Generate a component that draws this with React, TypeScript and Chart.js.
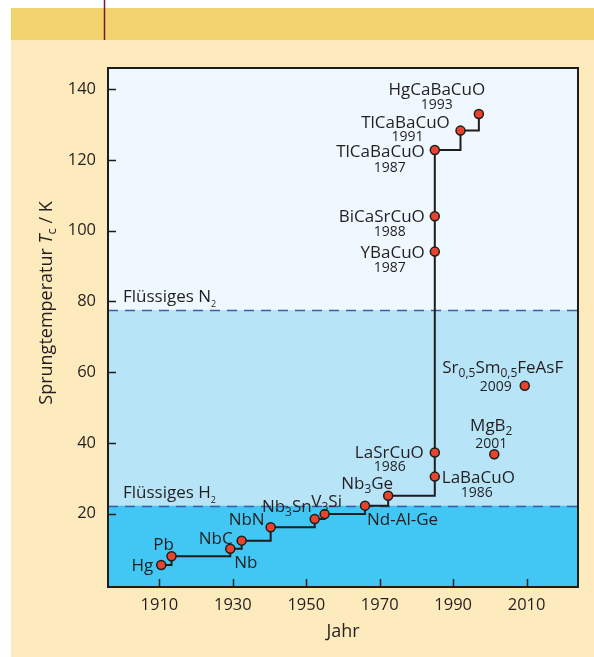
import React, { useEffect, useRef } from 'react';
import { Chart, registerables } from 'chart.js';

Chart.register(...registerables);

// ---------- data ----------
const stepNames = ['Hg', 'Pb', 'Nb', 'NbC', 'NbN', 'Nb_3Sn', 'V_3Si', 'Nd-Al-Ge', 'Nb_3Ge', 'LaBaCuO', 'LaSrCuO', 'YBaCuO', 'BiCaSrCuO', 'TlCaBaCuO', 'TlCaBaCuO', 'HgCaBaCuO'];
const stepYears = [1910.5, 1913.3, 1929.3, 1932.4, 1940.3, 1952.3, 1955.0, 1966.0, 1972.3, 1985.0, 1985.0, 1985.0, 1985.0, 1985.0, 1992.0, 1997.0];
const stepTc = [5.5, 8.0, 10.1, 12.4, 16.2, 18.5, 19.9, 22.3, 25.1, 30.5, 37.3, 94.1, 104.1, 122.8, 128.3, 133.0];
const stepYearLabels = ['', '', '', '', '', '', '', '', '', '1986', '1986', '1987', '1988', '1987', '1991', '1993'];

const otherNames = ['MgB_2', 'Sr_{0,5}Sm_{0,5}FeAsF'];
const otherYears = [2001.2, 2009.5];
const otherTc = [36.8, 56.2];
const otherYearLabels = ['2001', '2009'];

const xTicks = [1910, 1930, 1950, 1970, 1990, 2010];
const yTicks = [20, 40, 60, 80, 100, 120, 140];
const liquidN2 = 77.6;
const liquidH2 = 22.3;
const liquidLabels = ['Flüssiges N_2', 'Flüssiges H_2'];
const xTitle = 'Jahr';

// ---------- styles ----------
const FONT = '"Open Sans", "DejaVu Sans", sans-serif';
const TEXT = '#231f20';
const DOT = '#e8432c';
const INK = '#1d1d1b';

type Place = { a: CanvasTextAlign; dx: number; dy: number; ya?: CanvasTextAlign; ydx?: number; ydy?: number };
// dy/ydy: offset of the cap-centre of the text from the point
const stepPlace: Place[] = [
  { a: 'right', dx: -8, dy: 0 },
  { a: 'center', dx: -8, dy: -12 },
  { a: 'left', dx: 4, dy: 13 },
  { a: 'right', dx: -9, dy: -3 },
  { a: 'right', dx: -6, dy: -8 },
  { a: 'right', dx: -3, dy: -13 },
  { a: 'center', dx: 2, dy: -13 },
  { a: 'left', dx: 2, dy: 13 },
  { a: 'right', dx: 5, dy: -13 },
  { a: 'left', dx: 7, dy: 0, ya: 'center', ydx: 42, ydy: 15 },
  { a: 'right', dx: -11, dy: -1, ya: 'center', ydx: -45, ydy: 13 },
  { a: 'right', dx: -10, dy: 0, ya: 'center', ydx: -45, ydy: 15 },
  { a: 'right', dx: -10, dy: 0, ya: 'center', ydx: -45, ydy: 15 },
  { a: 'right', dx: -10, dy: 1, ya: 'center', ydx: -45, ydy: 17 },
  { a: 'center', dx: -55, dy: -9, ya: 'center', ydx: -53, ydy: 5 },
  { a: 'center', dx: -42, dy: -25, ya: 'center', ydx: -42, ydy: -10 },
];
const otherPlace: Place[] = [
  { a: 'center', dx: -3, dy: -29, ya: 'center', ydx: -3, ydy: -11 },
  { a: 'center', dx: -22, dy: -19, ya: 'right', ydx: -13, ydy: 0 },
];

type Seg = { t: string; sub: boolean; w?: number };
function parseRich(s: string): Seg[] {
  const out: Seg[] = [];
  let buf = '';
  for (let i = 0; i < s.length; i++) {
    const c = s[i];
    if (c === '_') {
      if (buf) { out.push({ t: buf, sub: false }); buf = ''; }
      if (s[i + 1] === '{') {
        const end = s.indexOf('}', i);
        out.push({ t: s.slice(i + 2, end), sub: true });
        i = end;
      } else {
        out.push({ t: s[i + 1], sub: true });
        i++;
      }
    } else buf += c;
  }
  if (buf) out.push({ t: buf, sub: false });
  return out;
}

function drawRich(
  ctx: CanvasRenderingContext2D, text: string, x: number, cy: number, align: CanvasTextAlign,
  size: number, subSize: number, subDy: number,
) {
  const segs = parseRich(text);
  let w = 0;
  for (const s of segs) {
    ctx.font = `${s.sub ? subSize : size}px ${FONT}`;
    s.w = ctx.measureText(s.t).width;
    w += s.w;
  }
  let sx = align === 'left' ? x : align === 'right' ? x - w : x - w / 2;
  const base = cy + size * 0.36;
  ctx.textAlign = 'left';
  ctx.textBaseline = 'alphabetic';
  for (const s of segs) {
    ctx.font = `${s.sub ? subSize : size}px ${FONT}`;
    ctx.fillText(s.t, sx, s.sub ? base + subDy : base);
    sx += s.w || 0;
  }
}

const decorPlugin = {
  id: 'decor',
  beforeDraw(chart: any) {
    const { ctx, chartArea: ca, scales } = chart;
    const W = chart.width, H = chart.height;
    ctx.save();
    ctx.fillStyle = '#ffffff';
    ctx.fillRect(0, 0, W, H);
    ctx.fillStyle = '#feebbd';
    ctx.fillRect(11, 8, W - 11, H - 8);
    ctx.fillStyle = '#f2d36e';
    ctx.fillRect(11, 8, W - 11, 32);
    ctx.strokeStyle = '#7a1535';
    ctx.lineWidth = 1.5;
    ctx.beginPath();
    ctx.moveTo(104.5, 0);
    ctx.lineTo(104.5, 40);
    ctx.stroke();
    // temperature bands
    const y = scales.y;
    const yN = y.getPixelForValue(liquidN2);
    const yH = y.getPixelForValue(liquidH2);
    ctx.fillStyle = '#eef8fe';
    ctx.fillRect(ca.left, ca.top, ca.width, yN - ca.top);
    ctx.fillStyle = '#b8e4f8';
    ctx.fillRect(ca.left, yN, ca.width, yH - yN);
    ctx.fillStyle = '#42c6f3';
    ctx.fillRect(ca.left, yH, ca.width, ca.bottom - yH);
    ctx.restore();
  },
  beforeDatasetsDraw(chart: any) {
    const { ctx, chartArea: ca, scales } = chart;
    ctx.save();
    // dashed liquid lines
    ctx.strokeStyle = '#3c5ba8';
    ctx.lineWidth = 1.5;
    ctx.setLineDash([10, 7]);
    [liquidN2, liquidH2].forEach((v, i) => {
      const py = Math.round(scales.y.getPixelForValue(v)) + 0.5;
      ctx.beginPath();
      ctx.moveTo(ca.left, py);
      ctx.lineTo(ca.right, py);
      ctx.stroke();
      ctx.fillStyle = TEXT;
      drawRich(ctx, liquidLabels[i], ca.left + 15, py - 15, 'left', 17, 9, 5);
    });
    ctx.setLineDash([]);
    // inward ticks
    ctx.strokeStyle = INK;
    ctx.lineWidth = 1.5;
    yTicks.forEach(v => {
      const py = Math.round(scales.y.getPixelForValue(v)) + 0.5;
      ctx.beginPath();
      ctx.moveTo(ca.left, py);
      ctx.lineTo(ca.left + 8, py);
      ctx.stroke();
    });
    xTicks.forEach(v => {
      const px = Math.round(scales.x.getPixelForValue(v)) + 0.5;
      ctx.beginPath();
      ctx.moveTo(px, ca.bottom);
      ctx.lineTo(px, ca.bottom - 8);
      ctx.stroke();
    });
    ctx.restore();
  },
  afterDatasetsDraw(chart: any) {
    const { ctx } = chart;
    ctx.save();
    ctx.fillStyle = TEXT;
    const drawSet = (dsIndex: number, names: string[], yrs: string[], places: Place[]) => {
      const meta = chart.getDatasetMeta(dsIndex);
      meta.data.forEach((pt: any, i: number) => {
        const p = places[i];
        drawRich(ctx, names[i], pt.x + p.dx, pt.y + p.dy, p.a, 17, 12, 4);
        if (yrs[i]) {
          drawRich(ctx, yrs[i], pt.x + (p.ydx || 0), pt.y + (p.ydy || 0), p.ya || 'center', 14, 10, 3);
        }
      });
    };
    drawSet(0, stepNames, stepYearLabels, stepPlace);
    drawSet(1, otherNames, otherYearLabels, otherPlace);
    ctx.restore();
  },
  afterDraw(chart: any) {
    const { ctx, chartArea: ca } = chart;
    ctx.save();
    ctx.strokeStyle = INK;
    ctx.lineWidth = 2;
    ctx.strokeRect(ca.left, ca.top, ca.width, ca.height);
    // y axis title with italic T and subscript c
    ctx.translate(45, 303);
    ctx.rotate(-Math.PI / 2);
    ctx.fillStyle = TEXT;
    const parts: { t: string; f: string; dy: number }[] = [
      { t: 'Sprungtemperatur ', f: `18px ${FONT}`, dy: 0 },
      { t: 'T', f: `italic 18px ${FONT}`, dy: 0 },
      { t: 'c', f: `13px ${FONT}`, dy: 4 },
      { t: ' / K', f: `18px ${FONT}`, dy: 0 },
    ];
    let w = 0;
    const ws = parts.map(p => { ctx.font = p.f; const m = ctx.measureText(p.t).width; w += m; return m; });
    let sx = -w / 2;
    ctx.textBaseline = 'alphabetic';
    ctx.textAlign = 'left';
    parts.forEach((p, i) => {
      ctx.font = p.f;
      ctx.fillText(p.t, sx, 6.5 + p.dy);
      sx += ws[i];
    });
    ctx.restore();
  },
};

export default function App() {
  const ref = useRef<HTMLCanvasElement | null>(null);
  useEffect(() => {
    if (!ref.current) return;
    const pointStyle = {
      pointRadius: 4.5,
      pointHoverRadius: 4.5,
      pointBackgroundColor: DOT,
      pointBorderColor: INK,
      pointBorderWidth: 1.5,
    };
    const chart = new Chart(ref.current, {
      type: 'line',
      data: {
        datasets: [
          {
            data: stepYears.map((x, i) => ({ x, y: stepTc[i] })),
            stepped: true,
            borderColor: INK,
            borderWidth: 2,
            fill: false,
            ...pointStyle,
          } as any,
          {
            data: otherYears.map((x, i) => ({ x, y: otherTc[i] })),
            showLine: false,
            ...pointStyle,
          } as any,
        ],
      },
      options: {
        responsive: false,
        animation: false,
        devicePixelRatio: 1,
        layout: { padding: { left: 0, top: 68, right: 16, bottom: 0 } },
        plugins: { legend: { display: false }, tooltip: { enabled: false } },
        scales: {
          x: {
            type: 'linear',
            min: 1896,
            max: 2024,
            afterBuildTicks: (s: any) => { s.ticks = xTicks.map(v => ({ value: v })); },
            afterFit: (s: any) => { s.height = 70; },
            grid: { display: false, drawTicks: false },
            border: { display: false },
            ticks: { padding: 8, color: TEXT, font: { family: FONT, size: 16.5 }, callback: (v: any) => String(v) },
            title: { display: true, text: xTitle, color: TEXT, font: { family: FONT, size: 18 }, padding: { top: 0, bottom: 14 } },
          },
          y: {
            type: 'linear',
            min: -0.7,
            max: 146,
            afterBuildTicks: (s: any) => { s.ticks = yTicks.map(v => ({ value: v })); },
            afterFit: (s: any) => { s.width = 108; },
            grid: { display: false, drawTicks: false },
            border: { display: false },
            ticks: { padding: 12, color: TEXT, font: { family: FONT, size: 16.5 }, callback: (v: any) => String(v) },
          },
        },
      } as any,
      plugins: [decorPlugin],
    });
    return () => chart.destroy();
  }, []);
  return (
    <div style={{ position: 'absolute', left: 0, top: 0, width: 594, height: 657 }}>
      <canvas ref={ref} width={594} height={657} style={{ display: 'block' }} />
    </div>
  );
}
